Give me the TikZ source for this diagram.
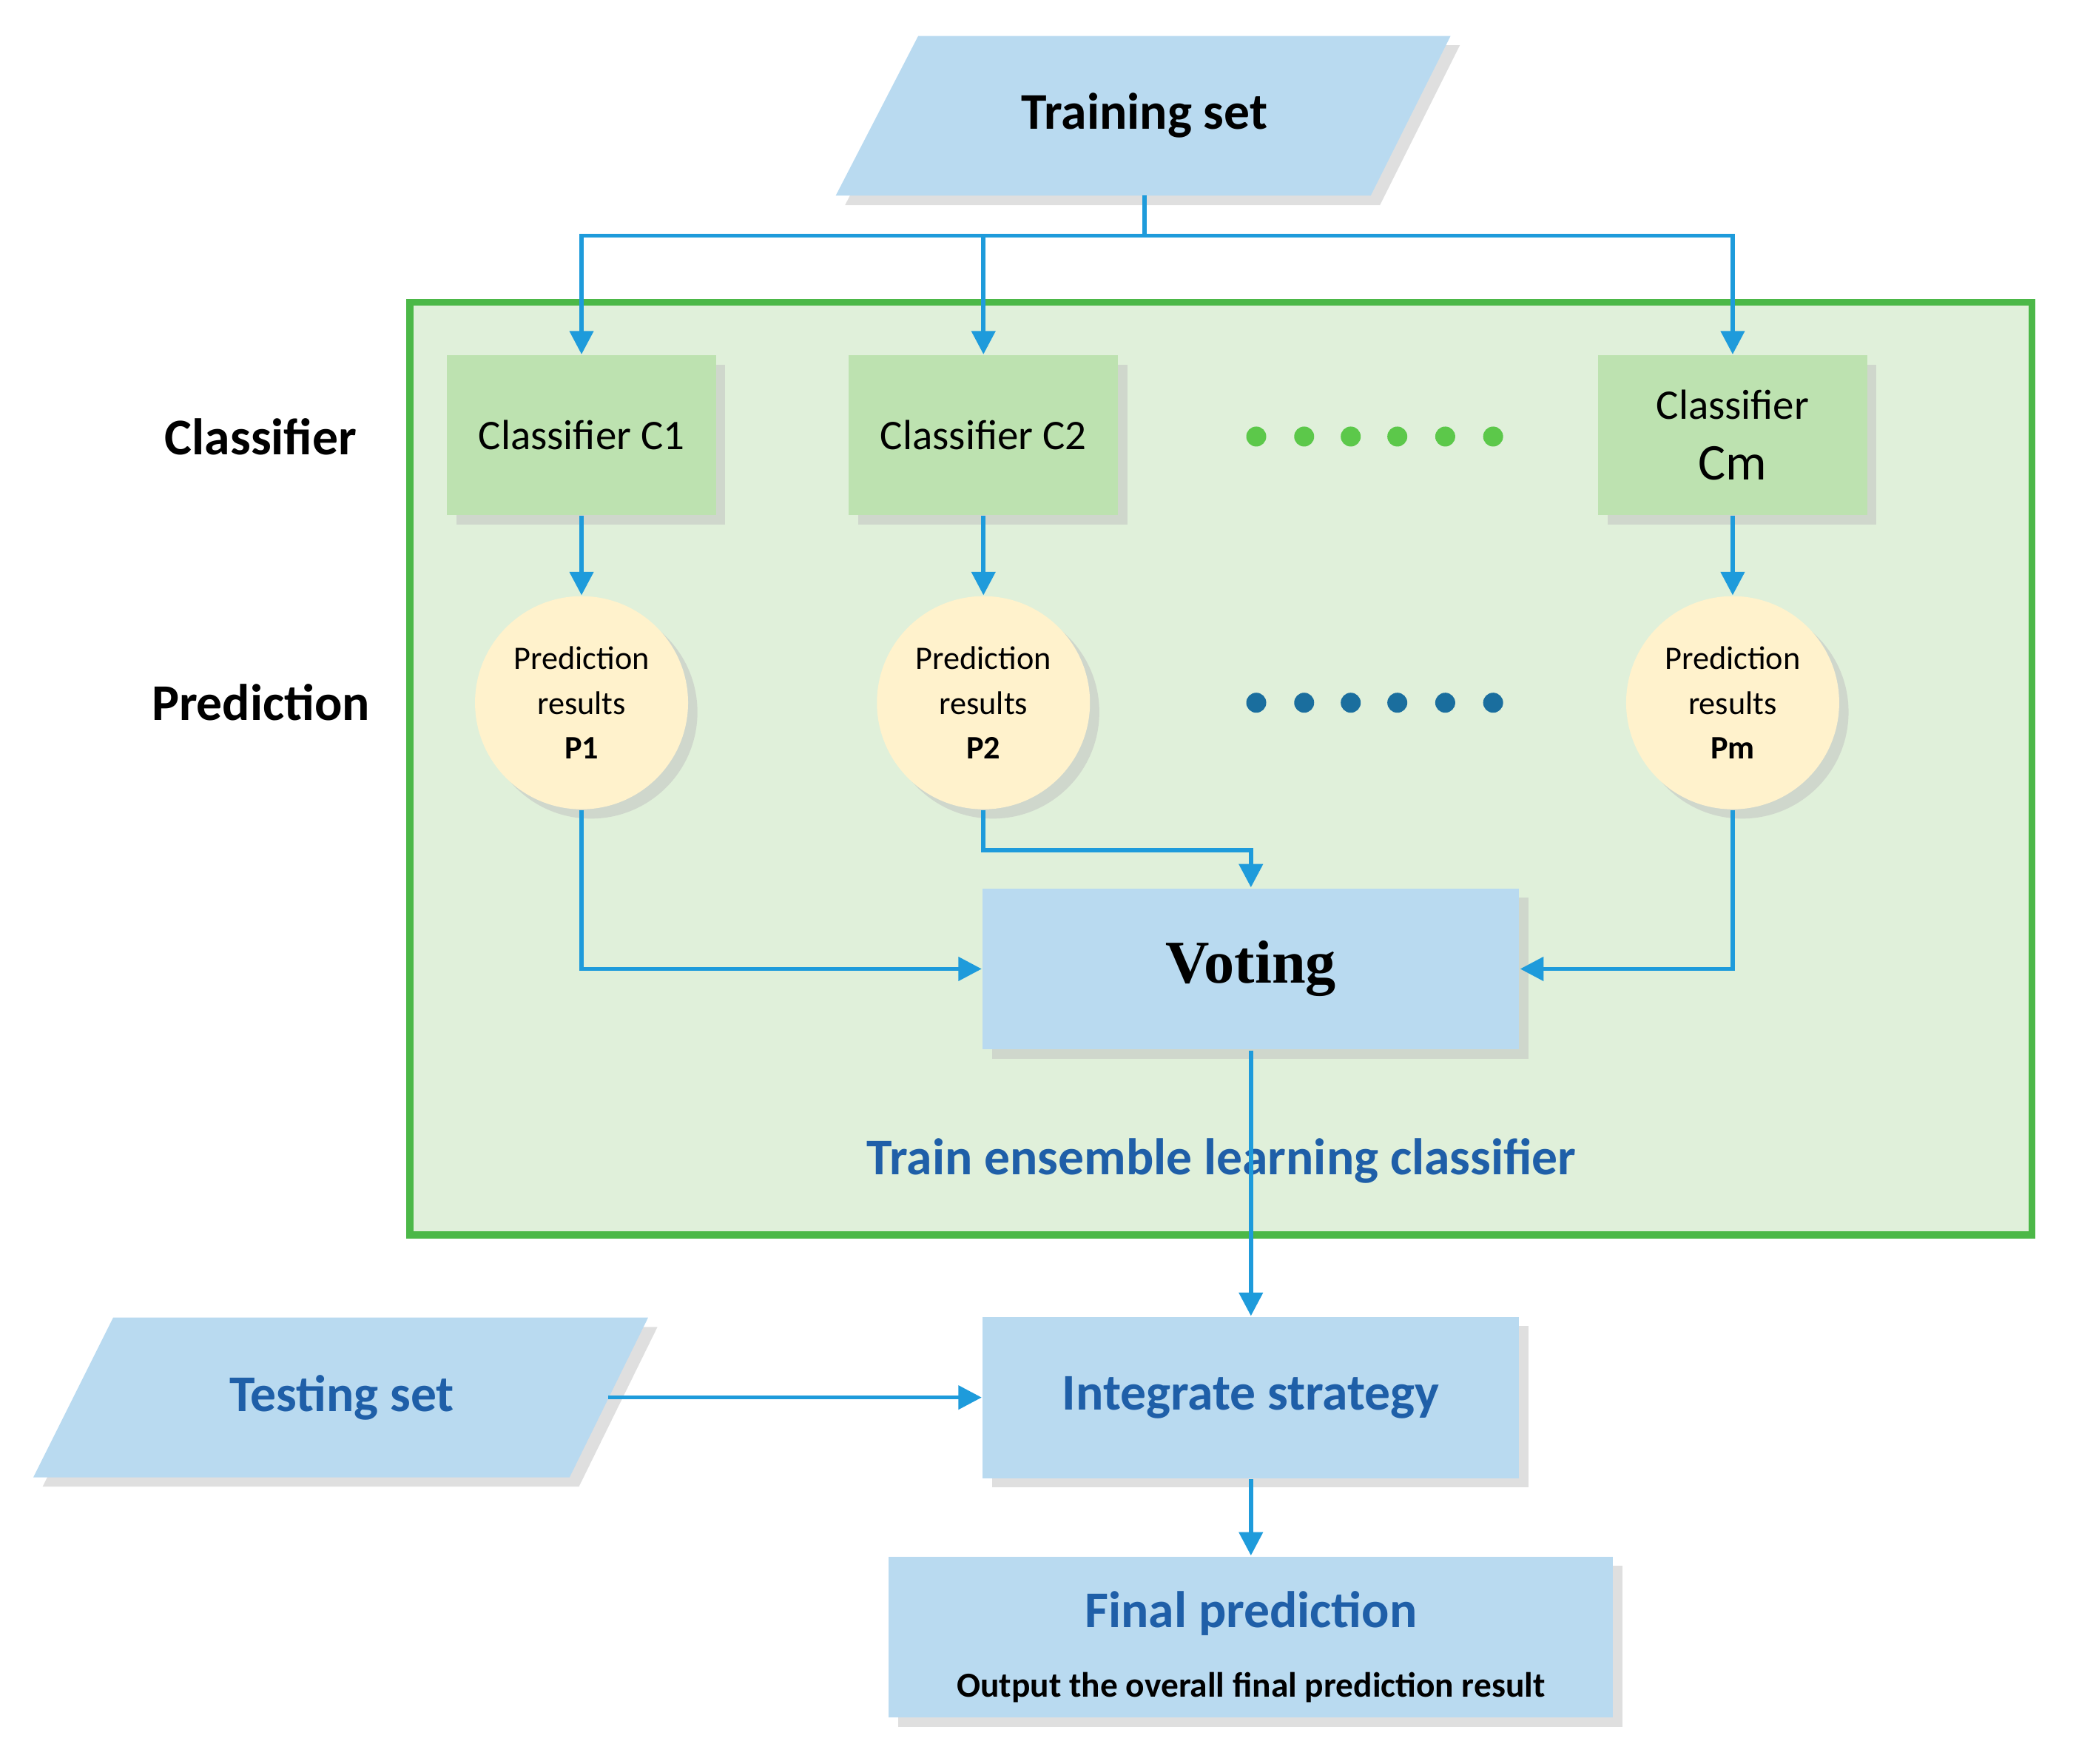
\documentclass[tikz,border=0pt]{standalone}
\usepackage{fontspec}
\setmainfont{Carlito}
\newfontfamily\serifbf{Liberation Serif}
\usetikzlibrary{shapes.geometric,arrows.meta,shadows}
\definecolor{lb}{HTML}{B9DAF0}
\definecolor{gbox}{HTML}{BDE2B0}
\definecolor{gframe}{HTML}{E0F0DA}
\definecolor{gline}{HTML}{4CB848}
\definecolor{arr}{HTML}{1E9BDB}
\definecolor{circ}{HTML}{FFF2CC}
\definecolor{tb}{HTML}{1F5FA8}
\definecolor{gdot}{HTML}{5CC84A}
\definecolor{bdot}{HTML}{1A6E9E}
\begin{document}
\begin{tikzpicture}[x=0.01cm,y=-0.01cm,
  shad/.style={drop shadow={shadow xshift=2pt,shadow yshift=-2pt,fill=black!25,opacity=.5}},
  rbox/.style={draw=none,fill=lb,shad,minimum width=4.03cm,minimum height=1.21cm,inner sep=0pt},
  cbox/.style={draw=none,fill=gbox,shad,minimum width=2.02cm,minimum height=1.2cm,inner sep=0pt,align=center,font=\fontsize{9}{12}\selectfont},
  pcirc/.style={circle,fill=circ,shad,minimum size=1.6cm,inner sep=0pt,align=center,font=\fontsize{7}{9.5}\selectfont},
  arrow/.style={draw=arr,line width=0.9pt,-{Triangle[length=5pt,width=5pt]}},
  line/.style={draw=arr,line width=0.9pt}]
\useasboundingbox (0,0) rectangle (1560,1325);
% frame
\draw[draw=gline,fill=gframe,line width=1.5pt] (308,227) rectangle (1527,928);
% training set
\path[fill=lb,shad] (690,27) -- (1090,27) -- (1030,147) -- (628,147) -- cycle;
\node[font=\bfseries\fontsize{11}{13}\selectfont] (train) at (860,87) {Training set};
\coordinate (ts) at (860,147);
\coordinate (sp) at (860,177);
% classifiers
\node[cbox] (c1) at (437,327) {Classifier C1};
\node[cbox] (c2) at (739,327) {Classifier C2};
\node[cbox] (cm) at (1302,327) {Classifier\\[1pt]{\fontsize{11}{12}\selectfont Cm}};
\foreach \x in {944,980,1015,1050,1086,1122}{
  \fill[gdot] (\x,328) circle (0.075cm);
  \fill[bdot] (\x,528) circle (0.075cm);}
% predictions
\node[pcirc] (p1) at (437,528) {Prediction\\results\\\textbf{P1}};
\node[pcirc] (p2) at (739,528) {Prediction\\results\\\textbf{P2}};
\node[pcirc] (pm) at (1302,528) {Prediction\\results\\\textbf{Pm}};
\node[font=\bfseries\fontsize{11}{13}\selectfont] (lc) at (196,328) {Classifier};
\node[font=\bfseries\fontsize{11}{13}\selectfont] (lp) at (196,528) {Prediction};
% voting
\node[rbox,font=\serifbf\bfseries\fontsize{13}{15}\selectfont] (vote) at (940,728) {Voting};
\node[font=\bfseries\fontsize{11}{13}\selectfont,text=tb] (tl) at (918,872) {Train ensemble learning classifier};
% integrate
\node[rbox,font=\bfseries\fontsize{11}{13}\selectfont,text=tb] (int) at (940,1050) {\raisebox{-3pt}{Integrate strategy}};
% testing set
\path[fill=lb,shad] (85,990) -- (487,990) -- (428,1110) -- (25,1110) -- cycle;
\node[font=\bfseries\fontsize{11}{13}\selectfont,text=tb] (test) at (257,1050) {Testing set};
\coordinate (te) at (457,1050);
% final
\node[rbox,minimum width=5.44cm,align=center] (fin) at (940,1230) {};
\node[font=\bfseries\fontsize{11}{13}\selectfont,text=tb] (ft) at (940,1212) {Final prediction};
\node[font=\bfseries\fontsize{7.5}{9}\selectfont] (fo) at (940,1268) {Output the overall final prediction result};
% connectors
\draw[line] (ts) -- (sp);
\draw[arrow] (sp) -| (c1.north);
\draw[arrow] (sp) -| (c2.north);
\draw[arrow] (sp) -| (cm.north);
\draw[arrow] (c1) -- (p1.north);
\draw[arrow] (c2) -- (p2.north);
\draw[arrow] (cm) -- (pm.north);
\draw[arrow] (p1.south) |- (vote.west);
\draw[arrow] (pm.south) |- (vote.east);
\draw[arrow] (p2.south) -- ++(0,30) -| (vote.north);
\draw[arrow] (vote.south) -- (int.north);
\draw[arrow] (te) -- (int.west);
\draw[arrow] (int.south) -- (fin.north);
\end{tikzpicture}
\end{document}
